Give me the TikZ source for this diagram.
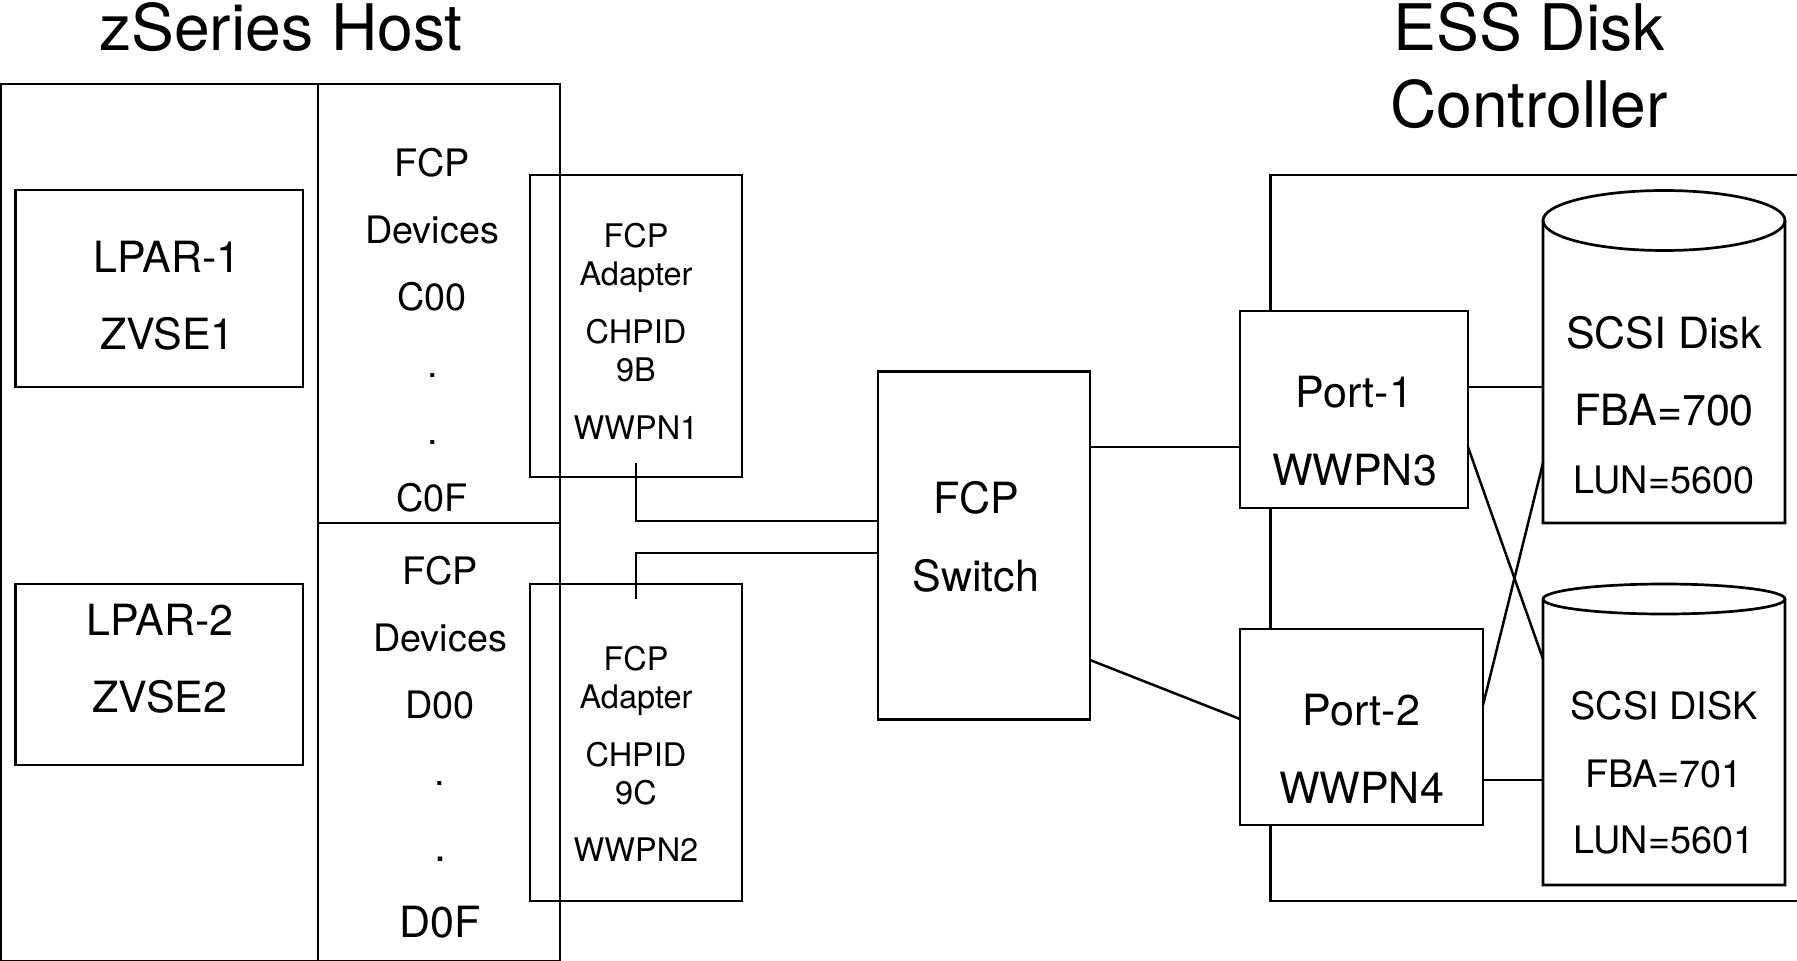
\documentclass[tikz,border=0pt]{standalone}
\usepackage{fontspec}
\setmainfont{TeX Gyre Heros}
\tikzset{
  x=1pt,y=-1pt,
  box/.style={draw=black,line width=2.7pt,inner sep=0pt,outer sep=0pt,fill=none},
  whitebox/.style={box,fill=white},
  hold/.style={inner sep=0pt,outer sep=0pt},
  wire/.style={draw=black,line width=2.5pt,line join=miter},
  lbl/.style={anchor=base,inner sep=0pt,outer sep=0pt,text=black},
  s63/.style={lbl,font=\fontsize{64.2}{64}\selectfont},
  s41/.style={lbl,font=\fontsize{43}{43}\selectfont},
  s37/.style={lbl,font=\fontsize{37.8}{38}\selectfont},
  s315/.style={lbl,font=\fontsize{32.5}{33}\selectfont}
}
\begin{document}
\begin{tikzpicture}
\useasboundingbox (0,0) rectangle (1797,961);
% containers
\node[box,minimum width=559pt,minimum height=877pt] (host) at (280.5,522.5) {};
\node[box,minimum width=242pt,minimum height=439pt] (devA) at (439,303.5) {};
\node[box,minimum width=242pt,minimum height=438pt] (devB) at (439,742) {};
\node[box,minimum width=560pt,minimum height=726pt] (ess) at (1550.5,538) {};
% boxes
\node[box,minimum width=287.5pt,minimum height=197pt] (lpar1) at (159.25,288.5) {};
\node[box,minimum width=287.5pt,minimum height=181pt] (lpar2) at (159.25,674.5) {};
\node[box,minimum width=212pt,minimum height=302pt] (adapter1) at (636,326) {};
\node[box,minimum width=212pt,minimum height=317pt] (adapter2) at (636,742.5) {};
\node[whitebox,minimum width=212pt,minimum height=348pt] (switch) at (984,545.5) {};
\node[whitebox,minimum width=228pt,minimum height=197pt] (port1) at (1354,409.5) {};
\node[whitebox,minimum width=243pt,minimum height=196pt] (port2) at (1361.5,727) {};
% disks
\node[hold,minimum width=242pt,minimum height=302.5pt] (disk1) at (1664,371.75) {};
\node[hold,minimum width=242pt,minimum height=286pt] (disk2) at (1664,742) {};
\draw[box,fill=white] (disk1.north west) arc[start angle=180,end angle=0,x radius=121pt,y radius=30pt]
  -- (disk1.south east) -- (disk1.south west) -- cycle;
\draw[box] (disk1.north west) arc[start angle=180,end angle=360,x radius=121pt,y radius=30pt];
\draw[box,fill=white] (disk2.north west) arc[start angle=180,end angle=0,x radius=121pt,y radius=15pt]
  -- (disk2.south east) -- (disk2.south west) -- cycle;
\draw[box] (disk2.north west) arc[start angle=180,end angle=360,x radius=121pt,y radius=15pt];
% connectors
\coordinate (stub1) at (636,463);
\coordinate (stub2) at (636,599);
\draw[wire] (stub1) -- (stub1 |- 0,521) -- (switch.west |- 0,521);
\draw[wire] (stub2) -- (stub2 |- 0,553) -- (switch.west |- 0,553);
\draw[wire] (switch.east |- 0,447) -- (port1.west |- 0,447);
\draw[wire] (switch.east |- 0,660) -- (port2.west |- 0,719);
\draw[wire] (port1.east |- 0,387) -- (disk1.west |- 0,387);
\draw[wire] (port1.east |- 0,447) -- (disk2.west |- 0,659);
\draw[wire] (port2.east |- 0,705) -- (disk1.west |- 0,463);
\draw[wire] (port2.east |- 0,780) -- (disk2.west |- 0,780);
% titles
\node[s63] (t1) at (281,50) {zSeries Host};
\node[s63] (t2) at (1529,50) {ESS Disk};
\node[s63] (t3) at (1529,127) {Controller};
% LPARs
\node[s41] (a1) at (167,272.5) {LPAR-1};
\node[s41] (a2) at (167.5,349) {ZVSE1};
\node[s41] (a3) at (160,635) {LPAR-2};
\node[s41] (a4) at (160,712) {ZVSE2};
% devices
\node[s37] (b1) at (432,176.5) {FCP};
\node[s37] (b2) at (432,243) {Devices};
\node[s37] (b3) at (432,310.5) {C00};
\node[s37] (b4) at (432.5,377) {.};
\node[s37] (b5) at (432.5,444) {.};
\node[s37] (b6) at (432,511) {C0F};
\node[s37] (c1) at (440,584) {FCP};
\node[s37] (c2) at (440,651) {Devices};
\node[s37] (c3) at (440,718) {D00};
\node[s37] (c4) at (440,785.5) {.};
\node[s41] (c5) at (440,861) {.};
\node[s41] (c6) at (440,937.5) {D0F};
% adapters
\node[s315] (d1) at (636,247) {FCP};
\node[s315] (d2) at (636,285) {Adapter};
\node[s315] (d3) at (636,343) {CHPID};
\node[s315] (d4) at (636,381) {9B};
\node[s315] (d5) at (636,439) {WWPN1};
\node[s315] (e1) at (636,670) {FCP};
\node[s315] (e2) at (636,708) {Adapter};
\node[s315] (e3) at (636,766) {CHPID};
\node[s315] (e4) at (636,804) {9C};
\node[s315] (e5) at (636,861.5) {WWPN2};
% switch
\node[s41] (f1) at (976,513.5) {FCP};
\node[s41] (f2) at (976,591) {Switch};
% ports
\node[s41] (g1) at (1354.5,407.5) {Port-1};
\node[s41] (g2) at (1354.5,485) {WWPN3};
\node[s41] (h1) at (1361.5,725.5) {Port-2};
\node[s41] (h2) at (1361.5,803) {WWPN4};
% disk labels
\node[s41] (i1) at (1664,348) {SCSI Disk};
\node[s41] (i2) at (1664,425) {FBA=700};
\node[s37] (i3) at (1664,493) {LUN=5600};
\node[s37] (j1) at (1664,719) {SCSI DISK};
\node[s37] (j2) at (1664,787) {FBA=701};
\node[s37] (j3) at (1664,853.5) {LUN=5601};
\end{tikzpicture}
\end{document}
